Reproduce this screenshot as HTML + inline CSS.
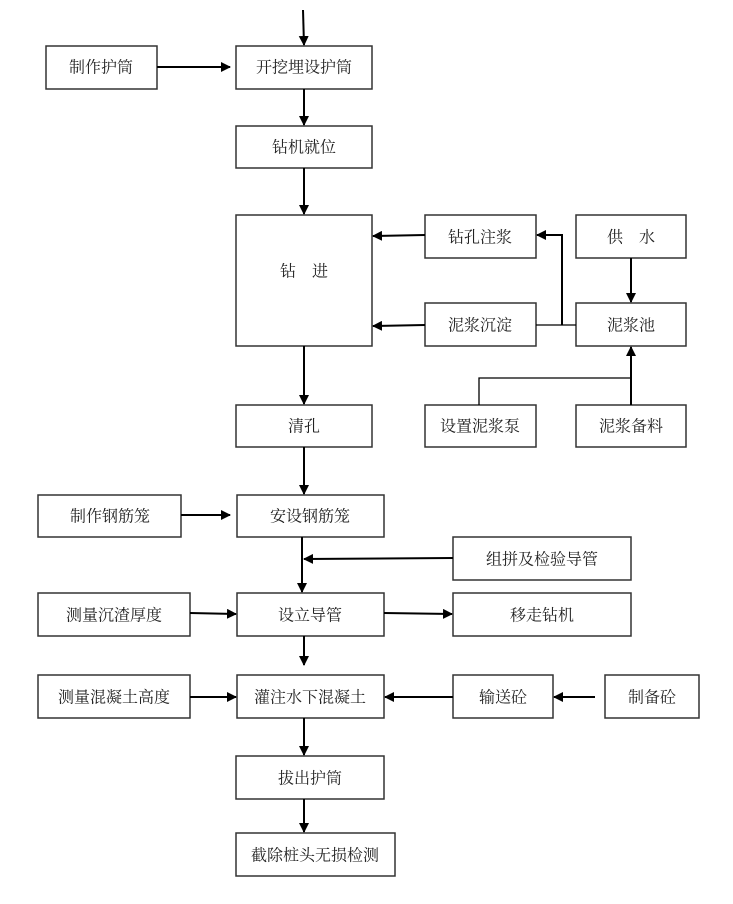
<!DOCTYPE html>
<html><head><meta charset="utf-8"><style>
html,body{margin:0;padding:0;background:#fff;}
svg text{font-family:"Liberation Serif","Noto Serif CJK SC",serif;font-size:16px;fill:#222;text-anchor:middle;dominant-baseline:central;}
</style></head><body>
<svg width="733" height="899" viewBox="0 0 733 899" xmlns="http://www.w3.org/2000/svg">
<defs><marker id="a" markerWidth="10" markerHeight="10" refX="9" refY="5" orient="auto" markerUnits="userSpaceOnUse"><path d="M0,0 L10,5 L0,10 z" fill="#000"/></marker></defs>
<g fill="none" stroke="#333" stroke-width="1.5">
<rect x="46" y="46" width="111" height="43"/>
<rect x="236" y="46" width="136" height="43"/>
<rect x="236" y="126" width="136" height="42"/>
<rect x="236" y="215" width="136" height="131"/>
<rect x="425" y="215" width="111" height="43"/>
<rect x="576" y="215" width="110" height="43"/>
<rect x="425" y="303" width="111" height="43"/>
<rect x="576" y="303" width="110" height="43"/>
<rect x="236" y="405" width="136" height="42"/>
<rect x="425" y="405" width="111" height="42"/>
<rect x="576" y="405" width="110" height="42"/>
<rect x="38" y="495" width="143" height="42"/>
<rect x="237" y="495" width="147" height="42"/>
<rect x="453" y="537" width="178" height="43"/>
<rect x="38" y="593" width="152" height="43"/>
<rect x="237" y="593" width="147" height="43"/>
<rect x="453" y="593" width="178" height="43"/>
<rect x="38" y="675" width="152" height="43"/>
<rect x="237" y="675" width="147" height="43"/>
<rect x="453" y="675" width="100" height="43"/>
<rect x="605" y="675" width="94" height="43"/>
<rect x="236" y="756" width="148" height="43"/>
<rect x="236" y="833" width="159" height="43"/>
</g>
<g fill="none" stroke="#000" stroke-width="2">
<line x1="303" y1="10" x2="304" y2="45" marker-end="url(#a)"/>
<line x1="157" y1="67" x2="230" y2="67" marker-end="url(#a)"/>
<line x1="304" y1="89" x2="304" y2="125" marker-end="url(#a)"/>
<line x1="304" y1="168" x2="304" y2="214" marker-end="url(#a)"/>
<line x1="425" y1="235" x2="373" y2="236" marker-end="url(#a)"/>
<line x1="425" y1="325" x2="373" y2="326" marker-end="url(#a)"/>
<line x1="304" y1="346" x2="304" y2="404" marker-end="url(#a)"/>
<line x1="631" y1="258" x2="631" y2="302" marker-end="url(#a)"/>
<line x1="631" y1="405" x2="631" y2="347" marker-end="url(#a)"/>
<polyline points="562,325 562,235 537,235" marker-end="url(#a)"/>
<line x1="304" y1="447" x2="304" y2="494" marker-end="url(#a)"/>
<line x1="181" y1="515" x2="230" y2="515" marker-end="url(#a)"/>
<line x1="453" y1="558" x2="304" y2="559" marker-end="url(#a)"/>
<line x1="302" y1="537" x2="302" y2="592" marker-end="url(#a)"/>
<line x1="190" y1="613" x2="236" y2="614" marker-end="url(#a)"/>
<line x1="384" y1="613" x2="452" y2="614" marker-end="url(#a)"/>
<line x1="304" y1="636" x2="304" y2="665" marker-end="url(#a)"/>
<line x1="190" y1="697" x2="236" y2="697" marker-end="url(#a)"/>
<line x1="453" y1="697" x2="385" y2="697" marker-end="url(#a)"/>
<line x1="595" y1="697" x2="554" y2="697" marker-end="url(#a)"/>
<line x1="304" y1="718" x2="304" y2="755" marker-end="url(#a)"/>
<line x1="304" y1="799" x2="304" y2="832" marker-end="url(#a)"/>
</g>
<g fill="none" stroke="#000" stroke-width="1.3">
<line x1="536" y1="325" x2="576" y2="325"/>
<polyline points="479,405 479,378 631,378"/>
</g>
<text x="101" y="68">制作护筒</text>
<text x="304" y="68">开挖埋设护筒</text>
<text x="304" y="148">钻机就位</text>
<text x="304" y="272">钻　进</text>
<text x="480" y="238">钻孔注浆</text>
<text x="631" y="238">供　水</text>
<text x="480" y="326">泥浆沉淀</text>
<text x="631" y="326">泥浆池</text>
<text x="304" y="427">清孔</text>
<text x="480" y="427">设置泥浆泵</text>
<text x="631" y="427">泥浆备料</text>
<text x="110" y="517">制作钢筋笼</text>
<text x="310" y="517">安设钢筋笼</text>
<text x="542" y="560">组拼及检验导管</text>
<text x="114" y="616">测量沉渣厚度</text>
<text x="310" y="616">设立导管</text>
<text x="542" y="616">移走钻机</text>
<text x="114" y="698">测量混凝土高度</text>
<text x="310" y="698">灌注水下混凝土</text>
<text x="503" y="698">输送砼</text>
<text x="652" y="698">制备砼</text>
<text x="310" y="779">拔出护筒</text>
<text x="315" y="856">截除桩头无损检测</text>
</svg>
</body></html>
